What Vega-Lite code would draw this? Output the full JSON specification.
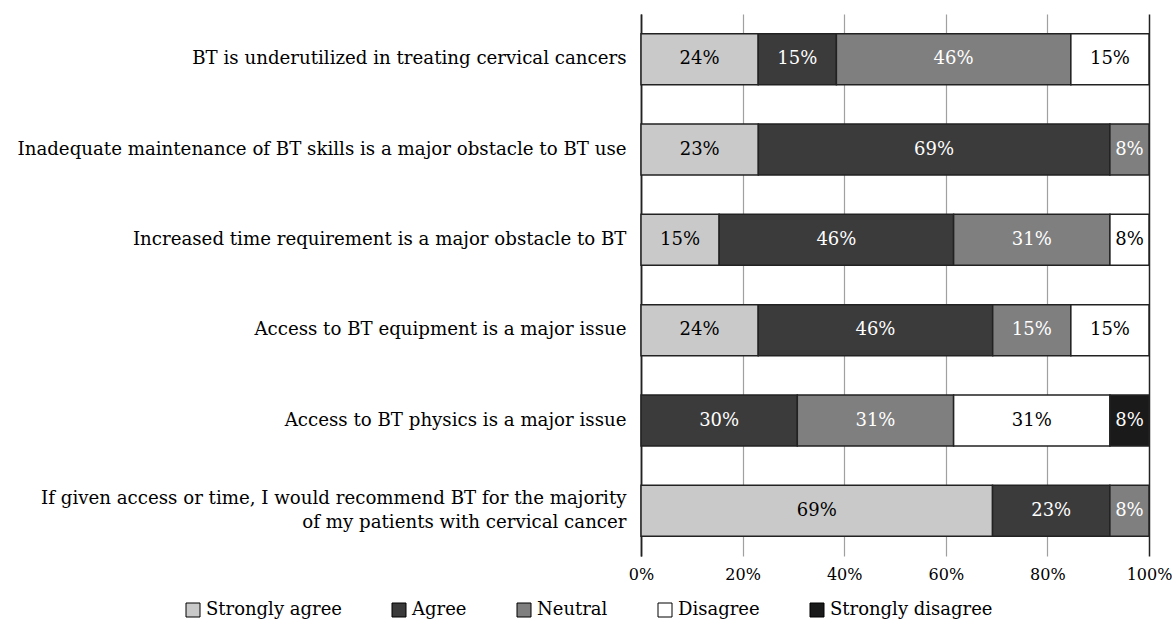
{
  "$schema": "https://vega.github.io/schema/vega-lite/v6.json",
  "autosize": {"type": "none"},
  "padding": {"left": 641, "top": 14, "right": 23, "bottom": 63},
  "width": 508,
  "height": 542,
  "background": "white",
  "config": {
    "view": {"stroke": null},
    "font": "DejaVu Serif"
  },
  "data": {
    "values": [
      {"question": "BT is underutilized in treating cervical cancers", "response": "Strongly agree", "order": 1, "value": 23.1, "label": "24%"},
      {"question": "BT is underutilized in treating cervical cancers", "response": "Agree", "order": 2, "value": 15.4, "label": "15%"},
      {"question": "BT is underutilized in treating cervical cancers", "response": "Neutral", "order": 3, "value": 46.2, "label": "46%"},
      {"question": "BT is underutilized in treating cervical cancers", "response": "Disagree", "order": 4, "value": 15.4, "label": "15%"},
      {"question": "Inadequate maintenance of BT skills is a major obstacle to BT use", "response": "Strongly agree", "order": 1, "value": 23.1, "label": "23%"},
      {"question": "Inadequate maintenance of BT skills is a major obstacle to BT use", "response": "Agree", "order": 2, "value": 69.2, "label": "69%"},
      {"question": "Inadequate maintenance of BT skills is a major obstacle to BT use", "response": "Neutral", "order": 3, "value": 7.7, "label": "8%"},
      {"question": "Increased time requirement is a major obstacle to BT", "response": "Strongly agree", "order": 1, "value": 15.4, "label": "15%"},
      {"question": "Increased time requirement is a major obstacle to BT", "response": "Agree", "order": 2, "value": 46.2, "label": "46%"},
      {"question": "Increased time requirement is a major obstacle to BT", "response": "Neutral", "order": 3, "value": 30.8, "label": "31%"},
      {"question": "Increased time requirement is a major obstacle to BT", "response": "Disagree", "order": 4, "value": 7.7, "label": "8%"},
      {"question": "Access to BT equipment is a major issue", "response": "Strongly agree", "order": 1, "value": 23.1, "label": "24%"},
      {"question": "Access to BT equipment is a major issue", "response": "Agree", "order": 2, "value": 46.2, "label": "46%"},
      {"question": "Access to BT equipment is a major issue", "response": "Neutral", "order": 3, "value": 15.4, "label": "15%"},
      {"question": "Access to BT equipment is a major issue", "response": "Disagree", "order": 4, "value": 15.4, "label": "15%"},
      {"question": "Access to BT physics is a major issue", "response": "Agree", "order": 2, "value": 30.8, "label": "30%"},
      {"question": "Access to BT physics is a major issue", "response": "Neutral", "order": 3, "value": 30.8, "label": "31%"},
      {"question": "Access to BT physics is a major issue", "response": "Disagree", "order": 4, "value": 30.8, "label": "31%"},
      {"question": "Access to BT physics is a major issue", "response": "Strongly disagree", "order": 5, "value": 7.7, "label": "8%"},
      {"question": "If given access or time, I would recommend BT for the majority\nof my patients with cervical cancer", "response": "Strongly agree", "order": 1, "value": 69.2, "label": "69%"},
      {"question": "If given access or time, I would recommend BT for the majority\nof my patients with cervical cancer", "response": "Agree", "order": 2, "value": 23.1, "label": "23%"},
      {"question": "If given access or time, I would recommend BT for the majority\nof my patients with cervical cancer", "response": "Neutral", "order": 3, "value": 7.7, "label": "8%"}
    ]
  },
  "transform": [
    {"stack": "value", "groupby": ["question"], "sort": [{"field": "order", "order": "ascending"}], "as": ["x0", "x1"], "offset": "normalize"},
    {"calculate": "(datum.x0 + datum.x1) / 2", "as": "mid"}
  ],
  "encoding": {
    "y": {
      "field": "question",
      "type": "nominal",
      "sort": null,
      "title": null,
      "scale": {"paddingInner": 0.435, "paddingOuter": 0.2175},
      "axis": {
        "labelExpr": "split(datum.label, '\\n')",
        "labelFont": "DejaVu Serif",
        "labelFontSize": 18.2,
        "labelColor": "#000",
        "labelLineHeight": 24,
        "labelLimit": 700,
        "labelPadding": 15,
        "labelOffset": {"condition": {"test": "indexof(datum.value, 'If given') === 0", "value": -12}, "value": 0},
        "ticks": false,
        "domain": true,
        "domainColor": "#222",
        "domainWidth": 1.5,
        "grid": false
      }
    }
  },
  "layer": [
    {
      "mark": {"type": "bar", "stroke": "#222", "strokeWidth": 1.5},
      "encoding": {
        "x": {
          "field": "x0",
          "type": "quantitative",
          "title": null,
          "scale": {"domain": [0, 1], "nice": false},
          "axis": {
            "values": [0, 0.2, 0.4, 0.6, 0.8, 1],
            "format": ".0%",
            "labelFont": "DejaVu Serif",
            "labelFontSize": 16,
            "labelColor": "#000",
            "labelPadding": 10,
            "labelFlush": false,
            "ticks": false,
            "domain": false,
            "grid": true,
            "gridColor": {"condition": {"test": "datum.value === 1 || datum.value === 0", "value": "#222"}, "value": "#a0a0a0"},
            "gridWidth": {"condition": {"test": "datum.value === 1 || datum.value === 0", "value": 1.5}, "value": 1.2},
            "gridOpacity": 1
          }
        },
        "x2": {"field": "x1"},
        "color": {
          "field": "response",
          "type": "nominal",
          "scale": {
            "domain": ["Strongly agree", "Agree", "Neutral", "Disagree", "Strongly disagree"],
            "range": ["#c9c9c9", "#3b3b3b", "#7f7f7f", "#ffffff", "#1a1a1a"]
          },
          "legend": {
            "title": null,
            "orient": "none",
            "direction": "horizontal",
            "legendX": -457,
            "legendY": 587,
            "padding": 0,
            "symbolType": "square",
            "symbolSize": 196,
            "symbolStrokeColor": "#000",
            "symbolStrokeWidth": 1,
            "symbolOpacity": 1,
            "labelFont": "DejaVu Serif",
            "labelFontSize": 18,
            "labelColor": "#000",
            "labelOffset": 4,
            "labelLimit": 300,
            "columnPadding": 48
          }
        }
      }
    },
    {
      "mark": {"type": "text", "font": "DejaVu Serif", "fontSize": 18, "align": "center", "baseline": "middle"},
      "encoding": {
        "x": {"field": "mid", "type": "quantitative"},
        "text": {"field": "label"},
        "color": {
          "condition": {"test": "indexof(['Agree','Neutral','Strongly disagree'], datum.response) >= 0", "value": "#ffffff"},
          "value": "#000000"
        }
      }
    }
  ]
}
